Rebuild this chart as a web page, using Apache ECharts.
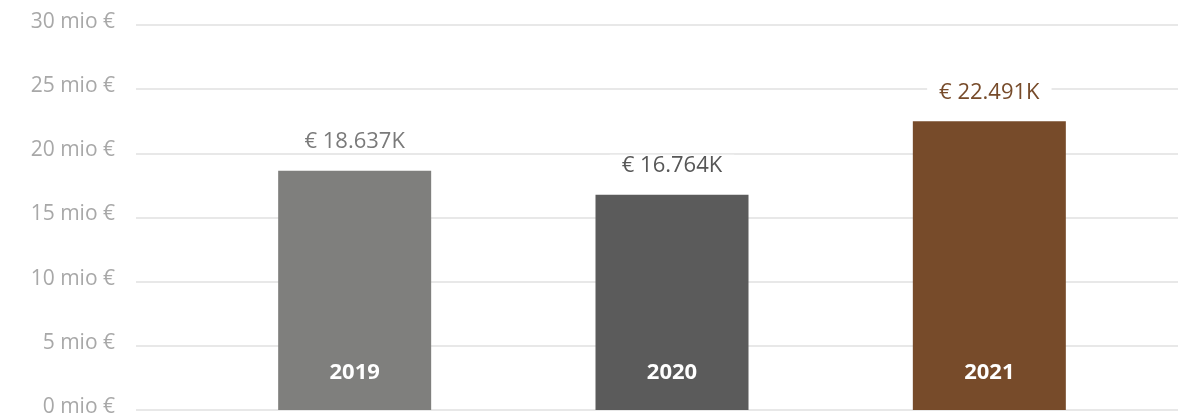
<!DOCTYPE html>
<html>
<head>
<meta charset="utf-8">
<script src="https://cdn.jsdelivr.net/npm/echarts@6/dist/echarts.min.js"></script>
<style>html,body{margin:0;padding:0;background:#fff;}#c{width:1183px;height:414px;}</style>
</head>
<body>
<div id="c"></div>
<script>
const categories = ['2019', '2020', '2021'];
const values = [18.637, 16.764, 22.491];
const valueLabels = ['€ 18.637K', '€ 16.764K', '€ 22.491K'];
const barColors = ['#7f7f7d', '#5b5b5b', '#774b2a'];
const labelColors = ['#7a7a7a', '#575757', '#774b2a'];
const yTicks = [0, 5, 10, 15, 20, 25, 30];

const FONT = '"Open Sans", Lato, sans-serif';
const chart = echarts.init(document.getElementById('c'), null, {renderer: 'canvas'});
chart.setOption({
  animation: false,
  grid: [
    {left: 136, right: 5, top: 25, bottom: 4, outerBoundsMode: 'none', containLabel: false},
    {left: 196, right: 35, top: 25, bottom: 4, outerBoundsMode: 'none', containLabel: false}
  ],
  xAxis: [
    {type: 'category', gridIndex: 0, data: categories, show: false},
    {type: 'category', gridIndex: 1, data: categories, show: false}
  ],
  yAxis: [
    {
      type: 'value', gridIndex: 0, min: yTicks[0], max: yTicks[yTicks.length - 1], interval: 5,
      axisLine: {show: false}, axisTick: {show: false},
      axisLabel: {margin: 21, color: '#a8a8a8', fontSize: 21, fontFamily: FONT,
        verticalAlign: 'bottom', lineHeight: 6,
        formatter: v => v + ' mio €'},
      splitLine: {lineStyle: {color: '#e0e0e0', width: 1.5}}
    },
    {
      type: 'value', gridIndex: 1, min: yTicks[0], max: yTicks[yTicks.length - 1], interval: 5,
      show: false, splitLine: {show: false}
    }
  ],
  series: [
    {
      type: 'bar', xAxisIndex: 1, yAxisIndex: 1, barWidth: 153,
      data: values.map((v, i) => ({
        value: v,
        itemStyle: {color: barColors[i]},
        label: {color: labelColors[i]}
      })),
      label: {
        show: true, position: 'top', distance: 18,
        formatter: p => valueLabels[p.dataIndex],
        fontSize: 22, fontFamily: FONT,
        backgroundColor: '#fff', padding: [0, 12]
      }
    },
    {
      type: 'bar', xAxisIndex: 1, yAxisIndex: 1, barWidth: 153, barGap: '-100%',
      data: values,
      itemStyle: {color: 'rgba(0,0,0,0)'},
      label: {
        show: true, position: 'insideBottom', distance: 26,
        formatter: p => categories[p.dataIndex],
        color: '#ffffff', fontSize: 22, fontWeight: 'bold', fontFamily: FONT
      }
    }
  ]
});
</script>
</body>
</html>
